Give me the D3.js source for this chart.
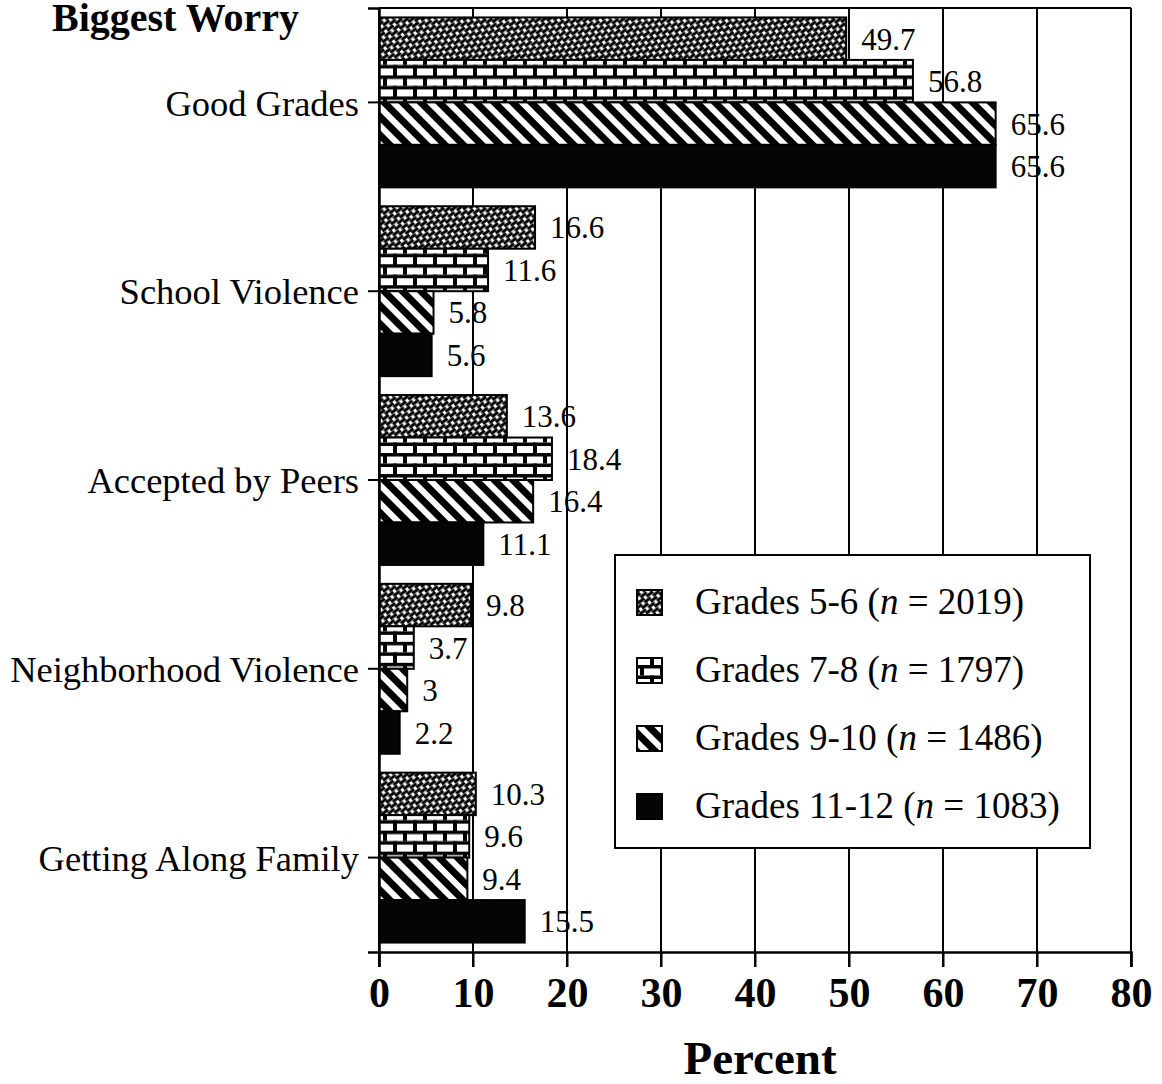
<!DOCTYPE html>
<html>
<head>
<meta charset="utf-8">
<script src="https://cdn.jsdelivr.net/npm/d3@7"></script>
<style>
  body { margin: 0; background: #fff; }
  svg { display: block; font-family: "Liberation Serif", "Times New Roman", serif; }
</style>
</head>
<body>
<div id="chart"></div>
<script>
// Biggest worry by grade level, horizontal grouped bars
const categories = ['Good Grades', 'School Violence', 'Accepted by Peers', 'Neighborhood Violence', 'Getting Along Family'];
const seriesNames = ['Grades 5-6', 'Grades 7-8', 'Grades 9-10', 'Grades 11-12'];
const seriesN = [2019, 1797, 1486, 1083];
const grades56 = [49.7, 16.6, 13.6, 9.8, 10.3];
const grades78 = [56.8, 11.6, 18.4, 3.7, 9.6];
const grades910 = [65.6, 5.8, 16.4, 3, 9.4];
const grades1112 = [65.6, 5.6, 11.1, 2.2, 15.5];
const xTicks = [0, 10, 20, 30, 40, 50, 60, 70, 80];

(() => {
	const width = 1162;
	const height = 1084;
	const left = 379, right = 1131, top = 8, bottom = 952;

	const svg = d3.select('#chart')
		.append('svg')
		.attr('width', width)
		.attr('height', height);

	const defs = svg.append('defs');

	// grades 5-6: dense slanted dashes
	const p1 = defs.append('pattern')
		.attr('id', 'pat56').attr('patternUnits', 'userSpaceOnUse')
		.attr('width', 11).attr('height', 6.5)
		.attr('patternTransform', 'rotate(-38)');
	p1.append('rect').attr('width', 11).attr('height', 6.5).attr('fill', '#fff');
	[[0, 8, 1.6], [5.5, 13.5, 4.85], [-5.5, 2.5, 4.85]].forEach(([a, b, yy]) => {
		p1.append('line').attr('x1', a).attr('x2', b).attr('y1', yy).attr('y2', yy)
			.attr('stroke', '#000').attr('stroke-width', 3);
	});

	// grades 7-8: bricks
	const p2 = defs.append('pattern')
		.attr('id', 'pat78').attr('patternUnits', 'userSpaceOnUse')
		.attr('width', 20).attr('height', 21)
		.attr('y', 16);
	p2.append('rect').attr('width', 20).attr('height', 21).attr('fill', '#fff');
	p2.append('rect').attr('x', 0).attr('y', 0).attr('width', 20).attr('height', 3.5).attr('fill', '#000');
	p2.append('rect').attr('x', 0).attr('y', 10.5).attr('width', 20).attr('height', 3.5).attr('fill', '#000');
	p2.append('rect').attr('x', 3).attr('y', 0).attr('width', 4).attr('height', 10.5).attr('fill', '#000');
	p2.append('rect').attr('x', 13).attr('y', 10.5).attr('width', 4).attr('height', 10.5).attr('fill', '#000');

	// grades 9-10: thick backslash stripes
	const p3 = defs.append('pattern')
		.attr('id', 'pat910').attr('patternUnits', 'userSpaceOnUse')
		.attr('width', 13).attr('height', 13)
		.attr('patternTransform', 'rotate(-45)');
	p3.append('rect').attr('width', 13).attr('height', 13).attr('fill', '#fff');
	p3.append('rect').attr('x', 0).attr('width', 7).attr('height', 13).attr('fill', '#000');

	const fills = ['url(#pat56)', 'url(#pat78)', 'url(#pat910)', '#050505'];
	const seriesVals = [grades56, grades78, grades910, grades1112];

	const x = d3.scaleLinear().domain([0, 80]).range([left, right]);
	const y = d3.scaleBand().domain(categories).range([top, bottom])
		.paddingInner(0.1).paddingOuter(0.05);
	const ySub = d3.scaleBand().domain(seriesNames).range([0, y.bandwidth()]);

	// vertical grid lines, extended below the axis as ticks
	svg.append('g')
		.selectAll('line')
		.data(xTicks)
		.join('line')
		.attr('x1', d => x(d)).attr('x2', d => x(d))
		.attr('y1', top).attr('y2', bottom + 15)
		.attr('stroke', '#000').attr('stroke-width', 2);

	// frame top
	svg.append('line')
		.attr('x1', left).attr('x2', right).attr('y1', top).attr('y2', top)
		.attr('stroke', '#000').attr('stroke-width', 2);

	// bars
	const groups = svg.append('g')
		.selectAll('g')
		.data(categories)
		.join('g')
		.attr('transform', d => `translate(0,${y(d)})`);

	const rowsOf = (c, ci) => seriesNames.map((s, si) => ({ s, si, v: seriesVals[si][ci] }));

	groups.selectAll('rect')
		.data(rowsOf)
		.join('rect')
		.attr('x', x(0))
		.attr('y', d => ySub(d.s))
		.attr('width', d => x(d.v) - x(0))
		.attr('height', ySub.bandwidth())
		.attr('fill', d => fills[d.si])
		.attr('stroke', '#000')
		.attr('stroke-width', 2);

	groups.selectAll('text')
		.data(rowsOf)
		.join('text')
		.attr('x', d => x(d.v) + 15)
		.attr('y', d => ySub(d.s) + ySub.bandwidth() / 2 + 11)
		.attr('font-size', 31)
		.attr('fill', '#000')
		.text(d => d.v);

	// x axis
	const xAxis = svg.append('g')
		.attr('transform', `translate(0,${bottom})`)
		.call(d3.axisBottom(x).tickValues(xTicks).tickSize(15).tickPadding(10).tickFormat(d3.format('d')));
	xAxis.select('.domain').attr('stroke', '#000').attr('stroke-width', 2.5);
	xAxis.selectAll('.tick line').attr('stroke-width', 2);
	xAxis.selectAll('.tick text')
		.attr('font-family', '"Liberation Serif", "Times New Roman", serif')
		.attr('font-weight', 'bold')
		.attr('font-size', 42)
		.attr('fill', '#000')
		.attr('dy', 0)
		.attr('y', 55);

	// y axis
	const yAxis = svg.append('g')
		.attr('transform', `translate(${left},0)`)
		.call(d3.axisLeft(y).tickSize(11).tickPadding(9));
	yAxis.select('.domain').attr('stroke', '#000').attr('stroke-width', 2.5);
	yAxis.selectAll('.tick line').attr('stroke-width', 2);
	yAxis.selectAll('.tick text')
		.attr('font-family', '"Liberation Serif", "Times New Roman", serif')
		.attr('font-size', 36.5)
		.attr('fill', '#000')
		.attr('dy', '0.36em');

	// axis title and chart title
	svg.append('text')
		.attr('x', 760).attr('y', 1074)
		.attr('text-anchor', 'middle')
		.attr('font-weight', 'bold')
		.attr('font-size', 47)
		.text('Percent');

	svg.append('text')
		.attr('x', 52).attr('y', 31)
		.attr('font-weight', 'bold')
		.attr('font-size', 40)
		.text('Biggest Worry');

	// legend
	const legend = svg.append('g');
	legend.append('rect')
		.attr('x', 615).attr('y', 555).attr('width', 475).attr('height', 293)
		.attr('fill', '#fff').attr('stroke', '#000').attr('stroke-width', 2);

	const rows = legend.selectAll('g.row')
		.data(seriesNames)
		.join('g')
		.attr('class', 'row')
		.attr('transform', (d, i) => `translate(637,${602 + i * 68})`);

	rows.append('rect')
		.attr('x', 0).attr('y', -12).attr('width', 25).attr('height', 25)
		.attr('fill', (d, i) => fills[i])
		.attr('stroke', '#000').attr('stroke-width', 2);

	const lt = rows.append('text')
		.attr('x', 58).attr('y', 12)
		.attr('font-size', 37);
	lt.append('tspan').text(d => d + ' (');
	lt.append('tspan').attr('font-style', 'italic').text('n');
	lt.append('tspan').text((d, i) => ' = ' + seriesN[i] + ')');
})();
</script>
</body>
</html>
